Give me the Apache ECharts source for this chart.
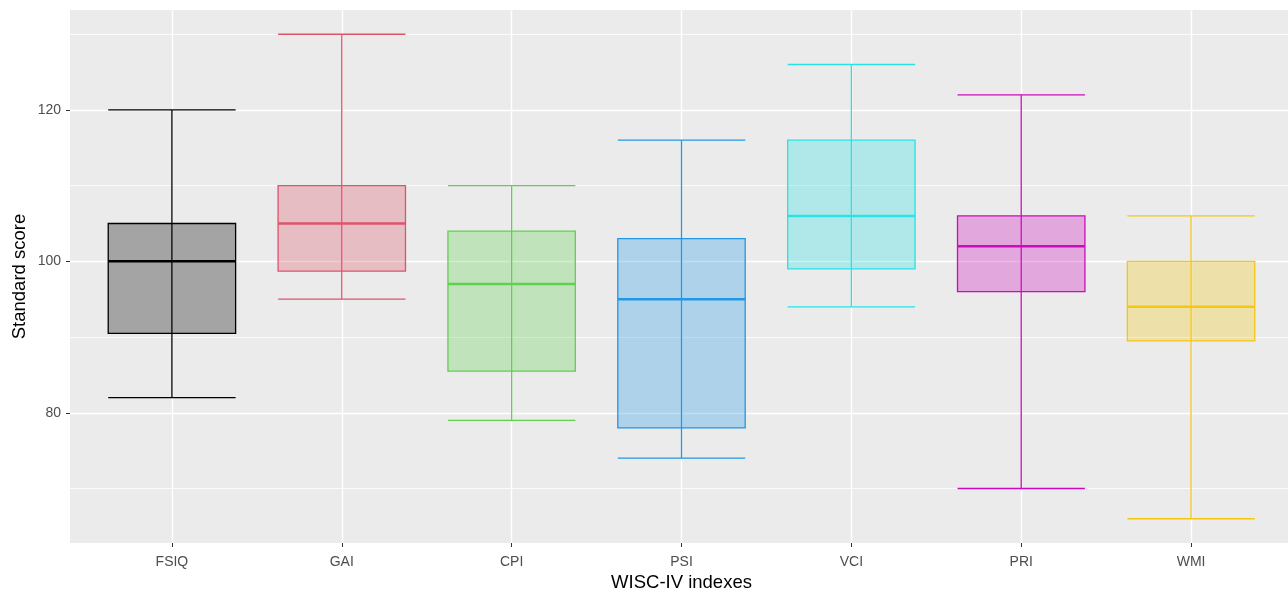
<!DOCTYPE html>
<html>
<head>
<meta charset="utf-8">
<script src="https://cdn.jsdelivr.net/npm/echarts@6.0.0/dist/echarts.min.js"></script>
<style>
    html, body {margin: 0; padding: 0; background: #fff;}
    #chart {width: 1288px; height: 591px;}
</style>
</head>
<body>
<div id="chart"></div>
<script>
// WISC-IV index scores
const categories = ['FSIQ', 'GAI', 'CPI', 'PSI', 'VCI', 'PRI', 'WMI'];
const lowWhisker = [82, 95, 79, 74, 94, 70, 66];
const q1 = [90.5, 98.7, 85.5, 78, 99, 96, 89.5];
const median = [100, 105, 97, 95, 106, 102, 94];
const q3 = [105, 110, 104, 103, 116, 106, 100];
const highWhisker = [120, 130, 110, 116, 126, 122, 106];
const yTicks = [80, 100, 120];

// R default palette
const boxColors = ['#000000', '#DF536B', '#61D04F', '#2297E6', '#28E2E5', '#CD0BBC', '#F5C710'];

function withAlpha(hex, a) {
    let r = parseInt(hex.slice(1, 3), 16);
    let g = parseInt(hex.slice(3, 5), 16);
    let b = parseInt(hex.slice(5, 7), 16);
    return 'rgba(' + r + ',' + g + ',' + b + ',' + a + ')';
}

let rows = categories.map((c, i) => [i, lowWhisker[i], q1[i], median[i], q3[i], highWhisker[i]]);

function renderBox(params, api) {
    let i = api.value(0);
    let hw = api.size([0.75, 0])[0] / 2;
    let cx = api.coord([i, api.value(1)])[0];
    let yLo = api.coord([i, api.value(1)])[1];
    let yQ1 = api.coord([i, api.value(2)])[1];
    let yMed = api.coord([i, api.value(3)])[1];
    let yQ3 = api.coord([i, api.value(4)])[1];
    let yHi = api.coord([i, api.value(5)])[1];
    let col = boxColors[i];
    let line = {stroke: col, lineWidth: 1.3};
    return {
        type: 'group',
        children: [
            {type: 'line', shape: {x1: cx, y1: yHi, x2: cx, y2: yLo}, style: line},
            {type: 'line', shape: {x1: cx - hw, y1: yHi, x2: cx + hw, y2: yHi}, style: line},
            {type: 'line', shape: {x1: cx - hw, y1: yLo, x2: cx + hw, y2: yLo}, style: line},
            {
                type: 'rect',
                shape: {x: cx - hw, y: yQ3, width: hw * 2, height: yQ1 - yQ3},
                style: {fill: withAlpha(col, 0.3), stroke: col, lineWidth: 1.3}
            },
            {type: 'line', shape: {x1: cx - hw, y1: yMed, x2: cx + hw, y2: yMed}, style: {stroke: col, lineWidth: 2.5}}
        ]
    };
}

let myChart = echarts.init(document.getElementById('chart'));

let option = {
    animation: false,
    backgroundColor: '#ffffff',
    textStyle: {fontFamily: 'Liberation Sans'},
    grid: {
        left: 70,
        right: -5,
        top: 10,
        bottom: 48,
        show: true,
        backgroundColor: '#EBEBEB',
        borderWidth: 0,
        outerBoundsMode: 'none'
    },
    xAxis: {
        type: 'value',
        min: -0.6,
        max: 6.6,
        minInterval: 1,
        maxInterval: 1,
        name: 'WISC-IV indexes',
        nameLocation: 'middle',
        nameGap: 30,
        nameMoveOverlap: false,
        nameTextStyle: {color: '#000000', fontSize: 18.5},
        axisLine: {show: false, onZero: false},
        axisTick: {show: true, length: 4, lineStyle: {color: '#333333'}, customValues: [0, 1, 2, 3, 4, 5, 6]},
        axisLabel: {
            color: '#4D4D4D',
            fontSize: 14,
            margin: 12,
            customValues: [0, 1, 2, 3, 4, 5, 6],
            formatter: v => categories[Math.round(v)] || ''
        },
        splitLine: {show: true, lineStyle: {color: '#ffffff', width: 1.4}}
    },
    yAxis: {
        type: 'value',
        min: 62.8,
        max: 133.2,
        minInterval: 20,
        maxInterval: 20,
        name: 'Standard score',
        nameLocation: 'middle',
        nameGap: 41,
        nameMoveOverlap: false,
        nameTextStyle: {color: '#000000', fontSize: 18.5},
        axisLine: {show: false, onZero: false},
        axisTick: {show: true, length: 4, lineStyle: {color: '#333333'}, customValues: yTicks},
        axisLabel: {color: '#4D4D4D', fontSize: 14, margin: 9, customValues: yTicks},
        splitLine: {show: true, lineStyle: {color: '#ffffff', width: 1.4}},
        minorTick: {show: false, splitNumber: 2},
        minorSplitLine: {show: true, lineStyle: {color: '#ffffff', width: 0.8}}
    },
    series: [
        {
            type: 'custom',
            renderItem: renderBox,
            encode: {x: 0, y: [1, 2, 3, 4, 5]},
            data: rows,
            clip: false
        }
    ]
};

myChart.setOption(option);
</script>
</body>
</html>
